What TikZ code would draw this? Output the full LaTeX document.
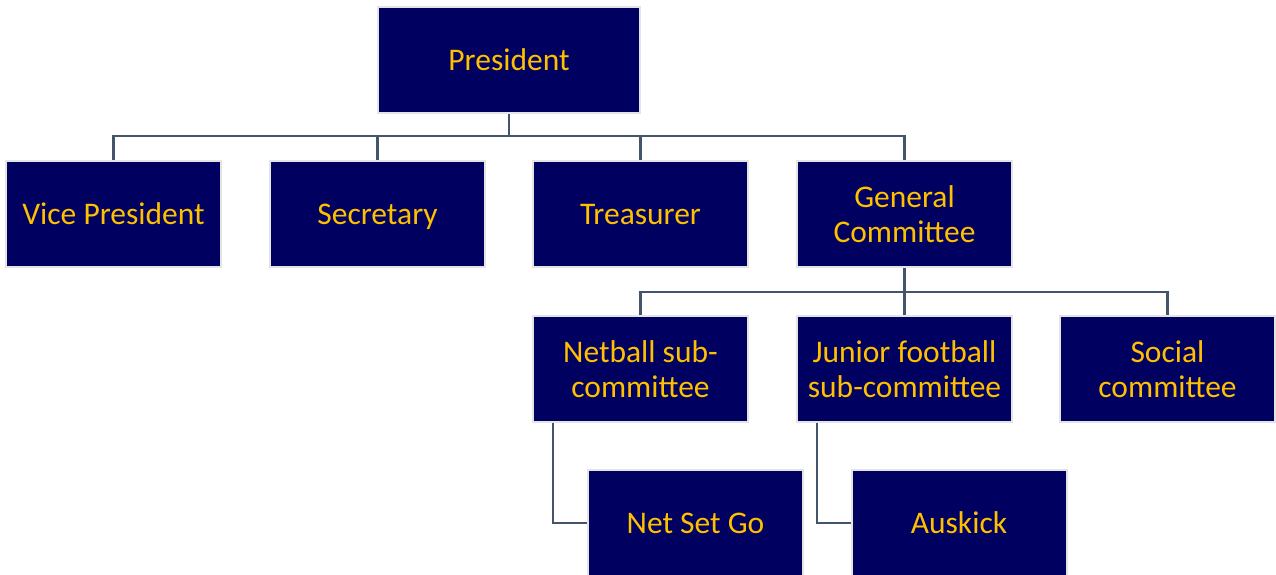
\documentclass[tikz,border=0pt]{standalone}
\usepackage{fontspec}
\setmainfont{Carlito}
\definecolor{navy}{HTML}{000060}
\definecolor{gold}{HTML}{FFC000}
\definecolor{edge}{HTML}{E4E4E4}
\definecolor{conn}{HTML}{44546A}
\begin{document}
\begin{tikzpicture}[x=1pt,y=-1pt,
  box/.style={rectangle, fill=navy, draw=edge, line width=2pt, minimum width=215pt, minimum height=106pt, inner sep=0pt, align=center, text=gold, font=\fontsize{31.5}{35}\selectfont},
  single/.style={text height=20.5pt, text depth=0pt},
  link/.style={draw=conn, line width=2.5pt}]
\useasboundingbox (0,0) rectangle (1276,574);
\node[box, single, minimum width=262pt] (P) at (509,60) {President};
\node[box, single] (VP) at (113.5,214) {Vice President};
\node[box, single] (SE) at (377.5,214) {Secretary};
\node[box, single] (TR) at (640.5,214) {Treasurer};
\node[box] (GC) at (904.5,214) {General\\Committee};
\node[box] (NB) at (640.5,369) {Netball sub-\\committee};
\node[box] (JF) at (904.5,369) {Junior football\\sub-committee};
\node[box] (SC) at (1167.5,369) {Social\\committee};
\node[box, single] (NS) at (695.5,523) {Net Set Go};
\node[box, single] (AK) at (959,523) {Auskick};
\draw[link] (P.south) -- ++(0,22) -| (VP.north);
\draw[link] (P.south) -- ++(0,22) -| (SE.north);
\draw[link] (P.south) -- ++(0,22) -| (TR.north);
\draw[link] (P.south) -- ++(0,22) -| (GC.north);
\draw[link] (GC.south) -- ++(0,24) -| (NB.north);
\draw[link] (GC.south) -- ++(0,24) -| (JF.north);
\draw[link] (GC.south) -- ++(0,24) -| (SC.north);
\draw[link] ([xshift=-87.5pt]NB.south) |- (NS.west);
\draw[link] ([xshift=-87.5pt]JF.south) |- (AK.west);
\end{tikzpicture}
\end{document}
